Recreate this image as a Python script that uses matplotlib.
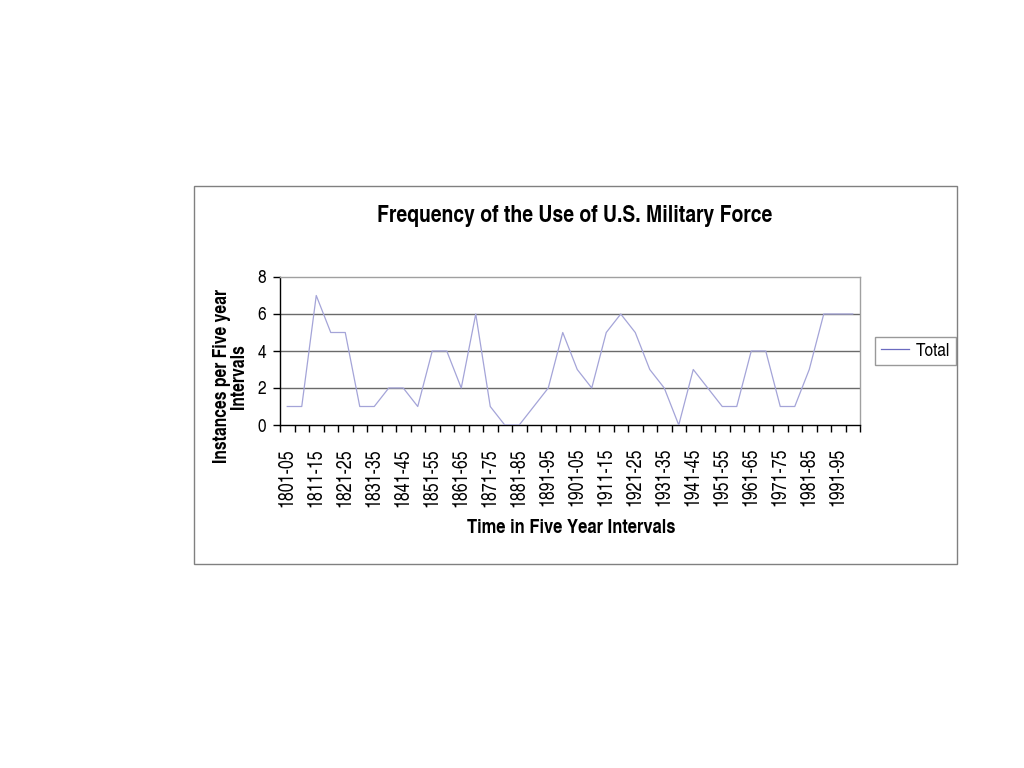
import matplotlib
matplotlib.use("Agg")
import matplotlib.pyplot as plt
from matplotlib.patches import Rectangle

plt.rcParams['font.family'] = ['TeX Gyre Heros Cn', 'Liberation Sans', 'DejaVu Sans']

categories = [
    "1801-05", "1806-10", "1811-15", "1816-20", "1821-25", "1826-30",
    "1831-35", "1836-40", "1841-45", "1846-50", "1851-55", "1856-60",
    "1861-65", "1866-70", "1871-75", "1876-80", "1881-85", "1886-90",
    "1891-95", "1896-1900", "1901-05", "1906-10", "1911-15", "1916-20",
    "1921-25", "1926-30", "1931-35", "1936-40", "1941-45", "1946-50",
    "1951-55", "1956-60", "1961-65", "1966-70", "1971-75", "1976-80",
    "1981-85", "1986-90", "1991-95", "1996-2000",
]
total = [1, 1, 7, 5, 5, 1, 1, 2, 2, 1, 4, 4, 2, 6, 1, 0, 0, 1, 2, 5,
         3, 2, 5, 6, 5, 3, 2, 0, 3, 2, 1, 1, 4, 4, 1, 1, 3, 6, 6, 6]
y_ticks = [0, 2, 4, 6, 8]

W, H = 1024, 768
fig = plt.figure(figsize=(W / 100, H / 100), dpi=100)

# outer chart border
fig.patches.append(Rectangle((194 / W, 1 - 564 / H), (957 - 194) / W, (564 - 186) / H,
                             transform=fig.transFigure, fill=False,
                             edgecolor='#808080', linewidth=1.0))

ax = fig.add_axes([280 / W, 1 - 425 / H, 580 / W, 148 / H])
x = list(range(len(categories)))
ax.plot(x, total, color='#a4a4d8', linewidth=0.9, label='Total', zorder=3)

ax.set_xlim(-0.5, len(categories) - 0.5)
ax.set_ylim(0, 8)
ax.set_yticks(y_ticks)
ax.set_yticklabels([str(v) for v in y_ticks], fontsize=13.5)
for v in y_ticks[1:-1]:
    ax.axhline(v, color='#6a6a6a', linewidth=1.0, zorder=1)

ax.set_xticks(x[::2])
ax.set_xticklabels(categories[::2], rotation=90, fontsize=14)
ax.set_xticks([i - 0.5 for i in range(len(categories) + 1)], minor=True)
ax.tick_params(axis='x', which='major', length=0, pad=16.5)
ax.tick_params(axis='x', which='minor', length=5, direction='out', width=1)
ax.tick_params(axis='y', which='major', length=5, direction='out', width=1, pad=5)

for s in ['top', 'right']:
    ax.spines[s].set_color('#a0a0a0')
    ax.spines[s].set_linewidth(1.0)
for s in ['left', 'bottom']:
    ax.spines[s].set_color('#000000')
    ax.spines[s].set_linewidth(1.0)

ax.set_ylabel("Instances per Five year\nIntervals", fontsize=13.8, fontweight='bold',
              linespacing=0.9)
ax.yaxis.set_label_coords(-0.056, 0.33)

fig.text(571 / W, 1 - 528 / H, "Time in Five Year Intervals", fontsize=14.5,
         fontweight='bold', ha='center', va='center')
fig.text(575 / W, 1 - 216 / H, "Frequency of the Use of U.S. Military Force",
         fontsize=17, fontweight='bold', ha='center', va='center')

leg = fig.legend(handles=ax.get_lines(), labels=['Total'], loc='center left',
                 bbox_to_anchor=(875 / W, 1 - 351 / H), fontsize=13.5,
                 frameon=True, fancybox=False, shadow=False,
                 handlelength=1.5, handletextpad=0.4, borderpad=0.3,
                 borderaxespad=0)
leg.get_frame().set_edgecolor('#808080')
leg.get_frame().set_linewidth(1.0)
leg.get_lines()[0].set_color('#6b6bc0')

fig.savefig("out.png", dpi=100)
